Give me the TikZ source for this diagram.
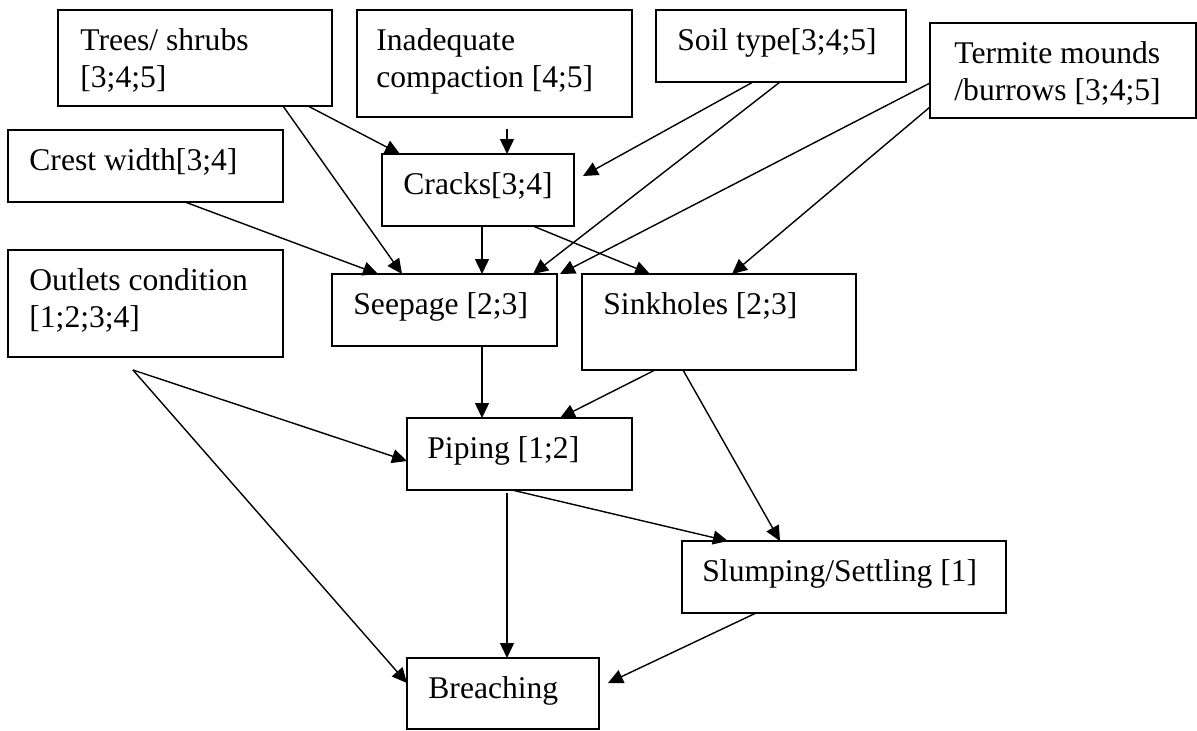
\documentclass[tikz,border=0pt]{standalone}
\usepackage{fontspec}
\setmainfont{Liberation Serif}
\usetikzlibrary{arrows.meta,calc}
\begin{document}
\begin{tikzpicture}[x=0.5pt,y=-0.5pt,
  box/.style 2 args={draw, line width=0.8pt, anchor=north west, inner sep=0pt,
    outer sep=0pt, minimum width=#1, minimum height=#2},
  lbl/.style={anchor=north west, inner sep=0pt, align=left, xshift=#1,
    yshift=-6.875pt, font=\fontsize{15.8}{18.75}\selectfont},
  lbl/.default=10.5pt,
  arr/.style={line width=0.7pt, -{Triangle[length=7.5pt,width=7pt]}}]
\useasboundingbox (0,0) rectangle (1197,730);

% factor boxes
\node[box={137pt}{48pt},   label={[lbl=11pt, name=trees-l]north west:{\strut Trees/ shrubs\\{}[3;4;5]}}] (trees) at (58,10) {};
\node[box={137.5pt}{53.5pt}, label={[lbl=9.5pt, name=inad-l]north west:{\strut Inadequate\\compaction [4;5]}}] (inad) at (357,10) {};
\node[box={125pt}{36pt},   label={[lbl, name=soil-l]north west:{\strut Soil type[3;4;5]}}] (soil) at (656,10) {};
\node[box={133pt}{47.5pt}, label={[lbl=12pt, name=termite-l]north west:{\strut Termite mounds\\/burrows [3;4;5]}}] (termite) at (930,23) {};
\node[box={137.5pt}{36pt}, label={[lbl, name=crest-l]north west:{\strut Crest width[3;4]}}] (crest) at (8,130) {};
\node[box={96pt}{36pt},    label={[lbl, name=cracks-l]north west:{\strut Cracks[3;4]}}] (cracks) at (382,154) {};
\node[box={137.5pt}{53.5pt}, label={[lbl, name=outlets-l]north west:{\strut Outlets condition\\{}[1;2;3;4]}}] (outlets) at (8,250) {};
\node[box={112.5pt}{36pt}, label={[lbl, name=seepage-l]north west:{\strut Seepage [2;3]}}] (seepage) at (332,274) {};
\node[box={137pt}{48pt},   label={[lbl, name=sink-l]north west:{\strut Sinkholes [2;3]}}] (sink) at (582,274) {};
\node[box={112.5pt}{36pt}, label={[lbl=10pt, name=piping-l]north west:{\strut Piping [1;2]}}] (piping) at (407,418) {};
\node[box={162pt}{36pt},   label={[lbl=10pt, name=slump-l]north west:{\strut Slumping/Settling [1]}}] (slump) at (682,541) {};
\node[box={96pt}{35.5pt},  label={[lbl, name=breach-l]north west:{\strut Breaching}}] (breach) at (407,658) {};

% causal links
\draw[arr] ($(trees.south west)+(250,0)$) -- ($(cracks.north west)+(18,0)$);
\draw[arr] ($(trees.south west)+(225,0)$) -- ($(seepage.north west)+(70,0)$);
\draw[arr] ($(crest.south west)+(177,0)$) -- ($(seepage.north west)+(46,0)$);
\draw[arr] ($(inad.south west)+(150,12)$) -- ($(cracks.north west)+(125,0)$);
\draw[arr] ($(soil.south west)+(97,0)$) -- ($(cracks.north east)+(9,22)$);
\draw[arr] ($(soil.south west)+(124,0)$) -- ($(seepage.north west)+(201,0)$);
\draw[arr] ($(termite.north west)+(0,60)$) -- ($(seepage.north east)+(3,0)$);
\draw[arr] ($(termite.north west)+(0,84)$) -- ($(sink.north west)+(150,0)$);
\draw[arr] ($(cracks.south west)+(100,0)$) -- ($(seepage.north west)+(150,0)$);
\draw[arr] ($(cracks.south west)+(151,0)$) -- ($(sink.north west)+(68,0)$);
\draw[arr] ($(seepage.south west)+(150,0)$) -- ($(piping.north west)+(75,0)$);
\draw[arr] ($(sink.south west)+(73,0)$) -- ($(piping.north west)+(153,0)$);
\draw[arr] ($(sink.south west)+(101,0)$) -- ($(slump.north west)+(98,0)$);
\coordinate (outlets-end) at ($(outlets.south west)+(125,13)$);
\draw[arr] (outlets-end) -- ($(piping.north west)+(0,43)$);
\draw[arr] (outlets-end) -- ($(breach.north west)+(0,25)$);
\draw[arr] ($(piping.south west)+(105,0)$) -- ($(slump.north west)+(46,0)$);
\draw[arr] ($(piping.south west)+(100,3)$) -- ($(breach.north west)+(100,0)$);
\draw[arr] ($(slump.south west)+(74,0)$) -- ($(breach.north east)+(9,25)$);
\end{tikzpicture}
\end{document}
